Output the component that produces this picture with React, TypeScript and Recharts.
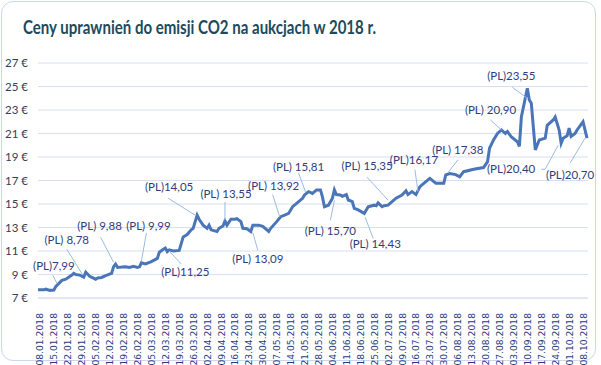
import { LineChart, Line, XAxis, YAxis, CartesianGrid, ReferenceDot } from 'recharts'

// days counted from 08.01.2018
const days = [
  -1, 2, 3, 5, 7, 8, 11, 13, 16, 17, 18, 20, 22, 23, 25, 28, 29, 31, 33, 34, 36, 37, 38, 39, 43, 45, 47, 49, 50, 51, 53, 56, 59, 60, 62,
  63, 64, 65, 67, 70, 72, 74, 76, 77, 79, 80, 82, 84, 85, 86, 89, 90, 92, 93, 94, 96, 98, 99, 101, 102, 104, 106, 107, 110, 112, 115,
  116, 119, 121, 123, 125, 127, 129, 132, 133, 135, 137, 139, 141, 142, 143, 145, 147, 148, 149, 151, 152, 154, 155, 157, 158, 160, 163,
  165, 168, 169, 170, 172, 173, 175, 178, 179, 182, 184, 185, 187, 189, 191, 194, 196, 198, 199, 203, 204, 206, 209, 211, 213, 218, 223,
  225, 226, 228, 230, 232, 234, 235, 237, 240, 241, 242, 245, 246, 247, 249, 251, 254, 255, 258, 259, 261, 262, 263, 265, 266, 267, 269,
  270, 273, 275,
]
const prices = [
  7.7, 7.7, 7.75, 7.65, 7.68, 7.99, 8.5, 8.6, 8.95, 9.1, 9.0, 8.95, 8.78, 9.2, 8.85, 8.6, 8.7, 8.75, 8.9, 8.96, 9.1, 9.66, 9.88, 9.6, 9.66,
  9.6, 9.7, 9.6, 9.65, 9.99, 9.9, 10.1, 10.37, 10.9, 11.14,
  11.25, 10.95, 11.1, 11.0, 11.05, 12.2, 12.4, 12.8, 12.93, 14.05, 13.7, 13.2, 12.93, 13.2, 12.8, 12.66, 12.93, 13.13, 13.55, 13.2, 13.7,
  13.7, 13.75, 13.5, 12.93, 12.9, 12.66, 13.2, 13.2, 13.1, 12.66,
  12.93, 13.5, 13.92, 14.06, 14.2, 14.77, 15.05, 15.48, 15.77, 16.05, 15.9, 16.2, 16.2, 15.6, 14.77, 14.9, 15.48, 16.2, 15.8, 15.77,
  15.65, 15.8, 15.34, 15.2, 14.63, 14.5, 14.2,
  14.77, 14.9, 14.85, 15.1, 14.77, 14.85, 14.9, 15.34, 15.5, 15.77, 16.13, 15.8, 16.05, 15.8, 16.48, 16.9, 17.18, 16.9, 16.77, 16.76,
  17.47, 17.6, 17.5, 17.32, 17.75, 17.95, 18.1,
  18.6, 19.74, 20.45, 21.0, 21.3, 21.0, 21.17, 20.7, 20.3, 19.9, 22.4, 24.85, 23.85, 23.57, 19.6, 20.45, 20.6, 21.7, 22.15, 22.4, 21.3,
  20.17, 20.6, 20.8, 21.45, 20.75, 21.0,
  21.3, 22.0, 20.6,
]

const tickLabels = [
  '08.01.2018', '15.01.2018', '22.01.2018', '29.01.2018', '05.02.2018', '12.02.2018', '19.02.2018', '26.02.2018', '05.03.2018',
  '12.03.2018', '19.03.2018', '26.03.2018', '02.04.2018', '09.04.2018', '16.04.2018', '23.04.2018', '30.04.2018', '07.05.2018',
  '14.05.2018', '21.05.2018', '28.05.2018', '04.06.2018', '11.06.2018', '18.06.2018', '25.06.2018', '02.07.2018', '09.07.2018',
  '16.07.2018', '23.07.2018', '30.07.2018', '06.08.2018', '13.08.2018', '20.08.2018', '27.08.2018', '03.09.2018', '10.09.2018',
  '17.09.2018', '24.09.2018', '01.10.2018', '08.10.2018',
]
const yTicks = [7, 9, 11, 13, 15, 17, 19, 21, 23, 25, 27]

// annotation texts and the auction day they point at
const noteTexts = [
  '(PL)7,99', '(PL) 8,78', '(PL) 9,88', '(PL) 9,99', '(PL)14,05', '(PL)11,25', '(PL) 13,55', '(PL) 13,09', '(PL) 13,92', '(PL) 15,81',
  '(PL) 15,70', '(PL) 14,43', '(PL) 15,35', '(PL)16,17', '(PL) 17,38', '(PL) 20,90', '(PL)23,55', '(PL)20,40', '(PL)20,70',
]
const noteDays = [8, 22, 38, 51, 79, 63, 93, 106, 121, 133, 147, 163, 175, 189, 204, 232, 247, 262, 275]

// label placement relative to the point: text centre, then leader points
const noteLayout: { t: [number, number]; lead: [number, number][] }[] = [
  { t: [-2, -20], lead: [[-3, -11], [1, -3]] },
  { t: [-17, -37], lead: [[-17, -28], [-1, -2]] },
  { t: [-16, -38], lead: [[-15, -27], [-2, -2]] },
  { t: [7, -37], lead: [[5, -30], [0, -2]] },
  { t: [-28, -28], lead: [[-29, -17], [-2, 0]] },
  { t: [20, 24], lead: [[4, 3], [16, 16]] },
  { t: [1, -27], lead: [[0, -19], [0, -1]] },
  { t: [7, 28], lead: [[2, 1], [7, 19]] },
  { t: [-7, -31], lead: [[-8, -22], [-1, 0]] },
  { t: [-6, -28], lead: [[-6, -22], [1, -3]] },
  { t: [-2, 33], lead: [[2, 2], [-2, 22]] },
  { t: [11, 31], lead: [[1, 4], [9, 25]] },
  { t: [-21, -39], lead: [[-21, -28], [0, -5]] },
  { t: [-2, -35], lead: [[-1, -25], [2, -3]] },
  { t: [12, -25], lead: [[12, -15], [2, -2]] },
  { t: [-11, -20], lead: [[-11, -10], [0, 0]] },
  { t: [-20, -27], lead: [[-19, -16], [-4, -5]] },
  { t: [-50, 26], lead: [[-20, 26], [-16, 26], [-3, 2]] },
  { t: [-17, 37], lead: [[-17, 25], [-2, 0]] },
]

const data = days.map((d, i) => ({ day: d, price: prices[i] }))
const weekTicks = tickLabels.map((_, i) => i * 7)

const LINE = '#4a76b9'
const GRID = '#d6e0f0'
const TEXT = '#2e3d7c'
const FONT = 'Lato, "Open Sans", sans-serif'

function XTick({ x, y, payload }: any) {
  return (
    <text x={x} y={y} transform={`rotate(-90 ${x} ${y})`} dy={3.5} textAnchor="end" fontSize={9.2} fill="#2b3a80" fontFamily="DejaVu Sans, sans-serif">
      {tickLabels[Math.round(payload.value / 7)]}
    </text>
  )
}

function YTick({ x, y, payload }: any) {
  return (
    <text x={x} y={y} dy={4} textAnchor="end" fontSize={11.5} fill="#33405a" fontFamily={FONT}>
      {payload.value} €
    </text>
  )
}

function noteLabel(i: number) {
  return (props: any) => {
    const vb = props.viewBox || {}
    const cx = vb.x + (vb.width || 0) / 2
    const cy = vb.y + (vb.height || 0) / 2
    const l = noteLayout[i]
    const pts = l.lead.map(([dx, dy]) => `${cx + dx},${cy + dy}`).join(' ')
    return (
      <g>
        <polyline points={pts} fill="none" stroke="#9cbbe0" strokeWidth={1} />
        <text x={cx + l.t[0]} y={cy + l.t[1]} dy={4} textAnchor="middle" fontSize={11.5} fill={TEXT} fontFamily={FONT}>
          {noteTexts[i]}
        </text>
      </g>
    )
  }
}

export default function App() {
  return (
    <div style={{ position: 'absolute', left: 0, top: 0, width: 601, height: 365, background: '#fff' }}>
      <div
        style={{
          position: 'absolute', left: 1, top: 1, width: 595, height: 360, border: '1px solid #c9d8ee', borderRadius: 12,
          boxSizing: 'border-box',
        }}
      />
      <div
        style={{
          position: 'absolute', left: 23, top: 16, fontFamily: FONT, fontWeight: 700, fontSize: 18, color: '#21495c',
          whiteSpace: 'nowrap', transform: 'scaleX(0.835)', transformOrigin: 'left top',
        }}
      >
        Ceny uprawnień do emisji CO2 na aukcjach w 2018 r.
      </div>
      <div style={{ position: 'absolute', left: 0, top: 0 }}>
        <LineChart width={601} height={365} data={data} margin={{ top: 63, right: 13, bottom: 0, left: 0 }}>
          <CartesianGrid stroke={GRID} vertical={false} />
          <XAxis
            dataKey="day"
            type="number"
            domain={[-1, 275.5]}
            ticks={weekTicks}
            interval={0}
            height={67}
            tick={<XTick />}
            tickLine={false}
            tickMargin={9}
            axisLine={{ stroke: GRID }}
          />
          <YAxis
            type="number"
            domain={[7, 27]}
            ticks={yTicks}
            width={38}
            tick={<YTick />}
            tickLine={false}
            tickMargin={4}
            axisLine={false}
          />
          <Line type="linear" dataKey="price" stroke={LINE} strokeWidth={3} dot={false} isAnimationActive={false} />
          {noteDays.map((d, i) => (
            <ReferenceDot
              key={i}
              x={d}
              y={prices[days.indexOf(d)]}
              r={0}
              fill="none"
              stroke="none"
              ifOverflow="visible"
              label={{ content: noteLabel(i) }}
            />
          ))}
        </LineChart>
      </div>
    </div>
  )
}
